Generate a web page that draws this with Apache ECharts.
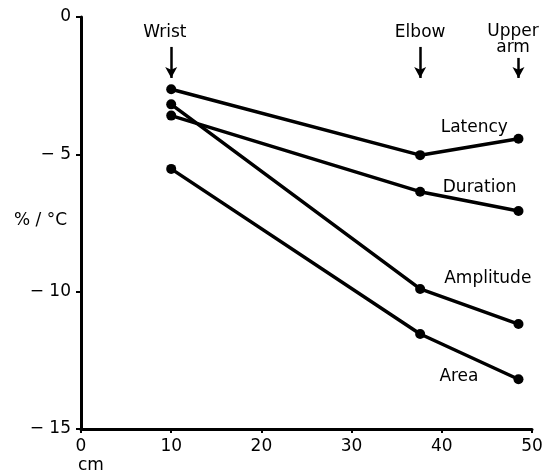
<!DOCTYPE html>
<html>
<head>
<meta charset="utf-8">
<script src="https://cdn.jsdelivr.net/npm/echarts@6/dist/echarts.min.js"></script>
<style>html,body{margin:0;padding:0;background:#fff}#c{width:552px;height:475px}</style>
</head>
<body>
<div id="c"></div>
<script>
// Data
var sites = ['Wrist', 'Elbow', 'Upper\narm'];
var positions = [10, 37.6, 48.5];           // cm
var latency   = [-2.63, -5.03, -4.43];      // %/°C
var duration  = [-3.59, -6.36, -7.06];
var amplitude = [-3.18, -9.90, -11.18];
var area      = [-5.53, -11.54, -13.19];
var seriesNames = ['Latency', 'Duration', 'Amplitude', 'Area'];
var xTicks = [0, 10, 20, 30, 40, 50];
var yTicks = [0, -5, -10, -15];

var FONT = 'DejaVu Sans';
function pairs(vals) { return vals.map(function (v, i) { return [positions[i], v]; }); }

var labelCoords = {
  Latency:   [43.6, -4.04],
  Duration:  [44.2, -6.22],
  Amplitude: [45.1, -9.54],
  Area:      [41.9, -13.1]
};
var allVals = { Latency: latency, Duration: duration, Amplitude: amplitude, Area: area };

var series = seriesNames.map(function (n) {
  return {
    name: n, type: 'line', data: pairs(allVals[n]),
    symbol: 'circle', symbolSize: 10,
    lineStyle: { color: '#000', width: 3.5 },
    itemStyle: { color: '#000' },
    markPoint: {
      symbol: 'circle', symbolSize: 0,
      data: [{ coord: labelCoords[n], value: n }],
      label: { show: true, position: 'inside', formatter: n, color: '#000', fontFamily: FONT, fontSize: 17 }
    }
  };
});

// arrows and site names
var arrowTop = [-1.09, -1.09, -1.49];
var arrowBottom = [-2.22, -2.22, -2.22];
var siteLabelY = [-0.55, -0.55, -0.84];
var siteLabelX = [9.3, 37.6, 47.9];
series.push({
  type: 'line', data: [], silent: true,
  markLine: {
    silent: true, animation: false,
    symbol: ['none', 'arrow'], symbolSize: [9, 11],
    lineStyle: { color: '#000', width: 2.5, type: 'solid' },
    label: { show: false },
    data: positions.map(function (x, i) { return [{ coord: [x, arrowTop[i]] }, { coord: [x, arrowBottom[i]] }]; })
  },
  markPoint: {
    symbol: 'circle', symbolSize: 0,
    data: sites.map(function (s, i) { return { coord: [siteLabelX[i], siteLabelY[i]], value: s }; }),
    label: { show: true, position: 'inside', formatter: function (p) { return p.data.value; }, color: '#000', fontFamily: FONT, fontSize: 17, lineHeight: 16 }
  }
});

var chart = echarts.init(document.getElementById('c'), null, { renderer: 'canvas' });
chart.setOption({
  animation: false,
  backgroundColor: '#fff',
  grid: { left: 81, right: 20, top: 17, bottom: 46 },
  xAxis: {
    type: 'value', min: 0, max: 50, interval: 10,
    axisLine: { show: true, onZero: false, lineStyle: { color: '#000', width: 3 } },
    axisTick: { show: true, length: 4, lineStyle: { color: '#000', width: 2 } },
    axisLabel: { color: '#000', fontFamily: FONT, fontSize: 17, margin: 9 },
    splitLine: { show: false }
  },
  yAxis: {
    type: 'value', min: -15, max: 0, interval: 5,
    axisLine: { show: true, onZero: false, lineStyle: { color: '#000', width: 3 } },
    axisTick: { show: true, length: 5, lineStyle: { color: '#000', width: 2 } },
    axisLabel: { color: '#000', fontFamily: FONT, fontSize: 17, margin: 10,
      formatter: function (v) { return v < 0 ? '\u2212 ' + Math.abs(v) : String(v); } },
    splitLine: { show: false }
  },
  graphic: [
    { type: 'text', left: 14, top: 212, style: { text: '% / \u00B0C', font: '17px "DejaVu Sans"', fill: '#000' } },
    { type: 'text', left: 78, top: 457, style: { text: 'cm', font: '17px "DejaVu Sans"', fill: '#000' } }
  ],
  series: series
});
</script>
</body>
</html>
